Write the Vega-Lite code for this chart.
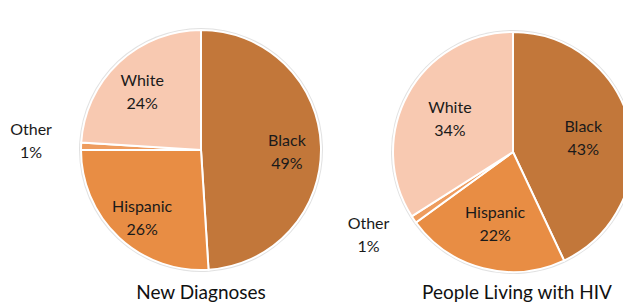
{
  "$schema": "https://vega.github.io/schema/vega-lite/v6.json",
  "padding": 0,
  "spacing": 0,
  "bounds": "flush",
  "background": "white",
  "config": {"view": {"stroke": null}, "font": "Lato"},
  "datasets": {
    "nd": [
      {"cat": "Black", "pct": 49, "ord": 1},
      {"cat": "Hispanic", "pct": 26, "ord": 2},
      {"cat": "Other", "pct": 1, "ord": 3},
      {"cat": "White", "pct": 24, "ord": 4}
    ],
    "plwh": [
      {"cat": "Black", "pct": 43, "ord": 1},
      {"cat": "Hispanic", "pct": 22, "ord": 2},
      {"cat": "Other", "pct": 1, "ord": 3},
      {"cat": "White", "pct": 34, "ord": 4}
    ]
  },
  "hconcat": [
    {
      "width": 402,
      "height": 300,
      "data": {"name": "nd"},
      "title": {"text": "New Diagnoses", "orient": "bottom", "offset": -16, "fontSize": 19, "fontWeight": "normal", "color": "#111111", "font": "Lato"},
      "transform": [{"calculate": "[datum.cat, datum.pct + '%']", "as": "lab"}],
      "encoding": {
        "theta": {"field": "pct", "type": "quantitative", "stack": true, "scale": {"domain": [0, 100]}},
        "order": {"field": "ord", "type": "quantitative"}
      },
      "layer": [
        {"mark": {"type": "arc", "outerRadius": 122, "fill": "#d4d4d4", "opacity": 0.7}, "encoding": {}},
        {
          "mark": {"type": "arc", "outerRadius": 120, "stroke": "white", "strokeWidth": 2},
          "encoding": {"color": {"field": "cat", "type": "nominal", "legend": null, "scale": {"domain": ["Black", "Hispanic", "Other", "White"], "range": ["#C2773A", "#E88D44", "#EE9C5E", "#F8C9B1"]}}}
        },
        {
          "mark": {"type": "text", "radius": 86, "fontSize": 16, "lineHeight": 23, "color": "#1a1a1a", "baseline": "middle", "dy": -6},
          "encoding": {"text": {"condition": {"test": "datum.cat == 'Other'", "value": ""}, "field": "lab"}}
        },
        {
          "mark": {"type": "text", "radius": 170, "fontSize": 16, "lineHeight": 23, "color": "#1a1a1a", "baseline": "middle", "dy": -15},
          "encoding": {"text": {"condition": {"test": "datum.cat != 'Other'", "value": ""}, "field": "lab"}}
        }
      ]
    },
    {
      "width": 222,
      "height": 304,
      "data": {"name": "plwh"},
      "title": {"text": "People Living with HIV", "orient": "bottom", "offset": -20, "fontSize": 19, "fontWeight": "normal", "color": "#111111", "font": "Lato", "dx": 4},
      "transform": [{"calculate": "[datum.cat, datum.pct + '%']", "as": "lab"}],
      "encoding": {
        "theta": {"field": "pct", "type": "quantitative", "stack": true, "scale": {"domain": [0, 100]}},
        "order": {"field": "ord", "type": "quantitative"}
      },
      "layer": [
        {"mark": {"type": "arc", "outerRadius": 122, "fill": "#d4d4d4", "opacity": 0.7}, "encoding": {}},
        {
          "mark": {"type": "arc", "outerRadius": 120, "stroke": "white", "strokeWidth": 2},
          "encoding": {"color": {"field": "cat", "type": "nominal", "legend": null, "scale": {"domain": ["Black", "Hispanic", "Other", "White"], "range": ["#C2773A", "#E88D44", "#EE9C5E", "#F8C9B1"]}}}
        },
        {
          "mark": {"type": "text", "radius": 72, "fontSize": 16, "lineHeight": 23, "color": "#1a1a1a", "baseline": "middle", "dy": -9},
          "encoding": {"text": {"condition": {"test": "datum.cat == 'Other'", "value": ""}, "field": "lab"}}
        },
        {
          "mark": {"type": "text", "radius": 165, "fontSize": 16, "lineHeight": 23, "color": "#1a1a1a", "baseline": "middle", "dx": -8, "dy": -21},
          "encoding": {"text": {"condition": {"test": "datum.cat != 'Other'", "value": ""}, "field": "lab"}}
        }
      ]
    }
  ]
}
